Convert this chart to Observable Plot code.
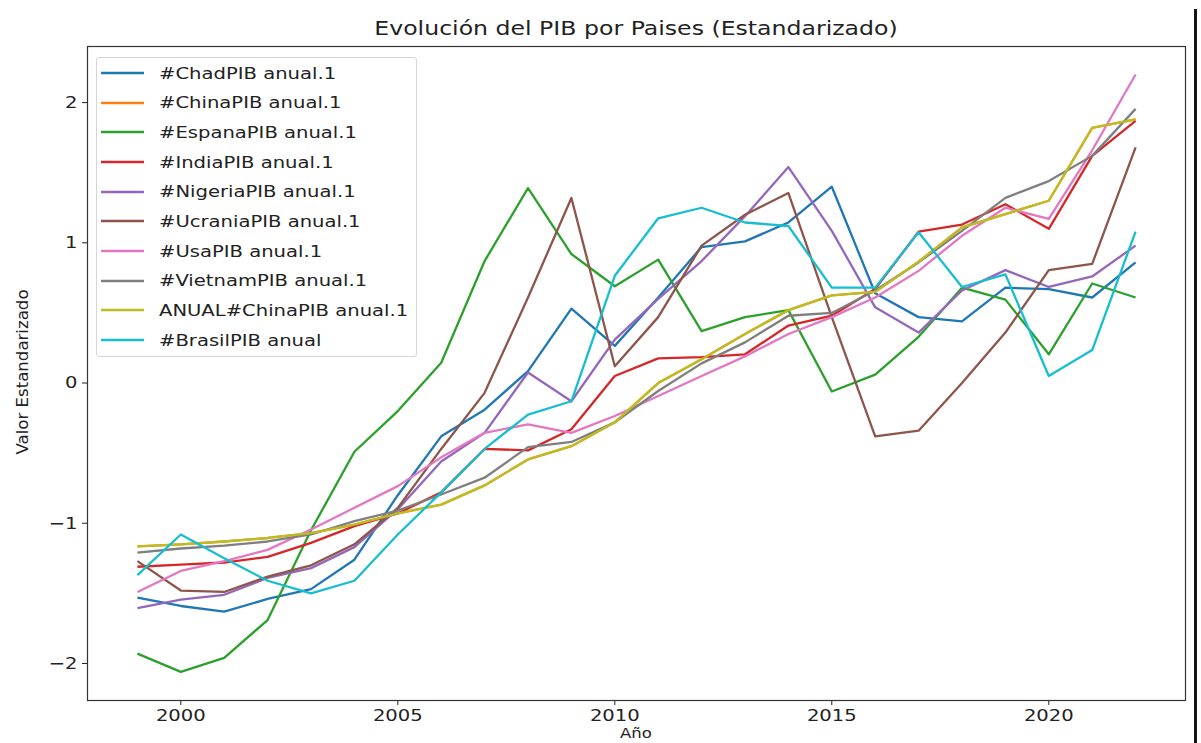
<!DOCTYPE html>
<html>
<head>
<meta charset="utf-8">
<script src="https://cdn.jsdelivr.net/npm/d3@7"></script>
<script src="https://cdn.jsdelivr.net/npm/@observablehq/plot@0.6"></script>
<style>
  html, body { margin: 0; padding: 0; background: #fff; overflow: hidden; width: 1201px; height: 743px; }
  #wrap { position: relative; width: 1201px; height: 743px; font-family: "DejaVu Sans", sans-serif; color: #222; }
  #title { position: absolute; left: 87px; width: 1098px; top: 15px; text-align: center; font-size: 20px; line-height: 26px; transform: scaleX(1.18); transform-origin: 50% 50%; }
  #ylab { position: absolute; left: 22px; top: 372px; transform: translate(-50%, -50%) rotate(-90deg); font-size: 16.6px; white-space: nowrap; }
  #xlab { position: absolute; left: 87px; width: 1098px; top: 725px; text-align: center; font-size: 14px; line-height: 16px; transform: scaleX(1.18); transform-origin: 50% 50%; }
  #legend { position: absolute; left: 96px; top: 57px; width: 321px; height: 300px; border: 1px solid #d6d6d6; border-radius: 3px; background: rgba(255,255,255,0.85); box-sizing: border-box; }
  .item { position: absolute; left: 0; height: 22px; display: flex; align-items: center; font-size: 16.6px; white-space: nowrap; }
  .item svg { margin-left: 4px; margin-right: 15px; flex: none; }
  .item span { display: inline-block; transform: scaleX(1.18); transform-origin: 0 50%; }
  #bar { position: absolute; left: 1194px; top: 9px; width: 3px; height: 734px; background: #151515; }
  #chart { position: absolute; left: 0; top: 0; }
</style>
</head>
<body>
<div id="wrap">
  <div id="chart"></div>
  <div id="title">Evolución del PIB por Paises (Estandarizado)</div>
  <div id="ylab">Valor Estandarizado</div>
  <div id="xlab">Año</div>
  <div id="legend"></div>
  <div id="bar"></div>
</div>
<script>
const years = [1999,2000,2001,2002,2003,2004,2005,2006,2007,2008,2009,2010,2011,2012,2013,2014,2015,2016,2017,2018,2019,2020,2021,2022];

const chad    = [-1.53,-1.59,-1.63,-1.54,-1.47,-1.26,-0.80,-0.38,-0.19,0.085,0.53,0.265,0.61,0.97,1.01,1.145,1.40,0.64,0.47,0.44,0.68,0.67,0.61,0.86];
const china   = [-1.165,-1.15,-1.13,-1.105,-1.07,-1.01,-0.93,-0.867,-0.73,-0.545,-0.45,-0.28,0.0,0.17,0.35,0.52,0.625,0.65,0.865,1.11,1.205,1.30,1.82,1.88];
const espana  = [-1.93,-2.06,-1.96,-1.69,-1.05,-0.49,-0.20,0.145,0.87,1.39,0.92,0.69,0.88,0.37,0.47,0.52,-0.06,0.06,0.33,0.68,0.595,0.205,0.71,0.61];
const india   = [-1.31,-1.295,-1.28,-1.24,-1.14,-1.02,-0.93,-0.78,-0.47,-0.48,-0.33,0.05,0.176,0.185,0.205,0.41,0.48,0.67,1.08,1.13,1.275,1.10,1.62,1.87];
const nigeria = [-1.605,-1.545,-1.51,-1.39,-1.32,-1.17,-0.90,-0.56,-0.355,0.075,-0.13,0.31,0.60,0.87,1.19,1.54,1.085,0.54,0.36,0.66,0.805,0.685,0.76,0.98];
const ucrania = [-1.27,-1.48,-1.49,-1.38,-1.30,-1.15,-0.89,-0.47,-0.07,0.61,1.32,0.12,0.47,0.98,1.20,1.355,0.47,-0.38,-0.34,0.0,0.36,0.805,0.85,1.68];
const usa     = [-1.49,-1.34,-1.27,-1.19,-1.045,-0.89,-0.735,-0.53,-0.355,-0.295,-0.355,-0.235,-0.093,0.05,0.19,0.35,0.47,0.61,0.80,1.05,1.25,1.17,1.66,2.20];
const vietnam = [-1.21,-1.18,-1.16,-1.13,-1.08,-0.985,-0.91,-0.795,-0.675,-0.457,-0.42,-0.28,-0.057,0.14,0.29,0.48,0.50,0.66,0.86,1.085,1.32,1.44,1.62,1.955];
const anualChina = [-1.165,-1.15,-1.13,-1.105,-1.07,-1.01,-0.93,-0.867,-0.73,-0.545,-0.45,-0.28,0.0,0.17,0.35,0.52,0.625,0.65,0.865,1.11,1.205,1.30,1.82,1.88];
const brasil  = [-1.37,-1.08,-1.25,-1.41,-1.50,-1.41,-1.08,-0.78,-0.47,-0.225,-0.13,0.765,1.175,1.25,1.145,1.12,0.68,0.68,1.075,0.685,0.775,0.05,0.235,1.08];

const seriesNames = ["#ChadPIB anual.1","#ChinaPIB anual.1","#EspanaPIB anual.1","#IndiaPIB anual.1","#NigeriaPIB anual.1","#UcraniaPIB anual.1","#UsaPIB anual.1","#VietnamPIB anual.1","ANUAL#ChinaPIB anual.1","#BrasilPIB anual"];
const seriesValues = [chad, china, espana, india, nigeria, ucrania, usa, vietnam, anualChina, brasil];
const colors = ["#1f77b4","#ff7f0e","#2ca02c","#d62728","#9467bd","#8c564b","#e377c2","#7f7f7f","#bcbd22","#17becf"];
const xTicks = [2000, 2005, 2010, 2015, 2020];
const yTicks = [-2, -1, 0, 1, 2];

const lineMarks = seriesValues.map((vals, i) =>
  Plot.line(years.map((yr, j) => ({year: yr, value: vals[j]})), {
    x: "year", y: "value", stroke: colors[i], strokeWidth: 2.3, strokeLinejoin: "round", strokeLinecap: "butt"
  })
);

const chart = Plot.plot({
  width: 1201,
  height: 743,
  marginTop: 46,
  marginBottom: 43,
  marginLeft: 87,
  marginRight: 16,
  style: { fontFamily: "DejaVu Sans, sans-serif", fontSize: "16.6px", color: "#222", background: "#fff" },
  x: { domain: [1997.85, 2023.15], ticks: xTicks, tickFormat: d => String(d), label: null, tickSize: 5, tickPadding: 4 },
  y: { domain: [-2.264, 2.40], ticks: yTicks, tickFormat: d => d < 0 ? "\u2212" + Math.abs(d) : String(d), label: null, tickSize: 5, tickPadding: 5 },
  marks: [
    ...lineMarks,
    Plot.frame({ stroke: "#333", strokeWidth: 1.2 })
  ]
});
document.getElementById("chart").appendChild(chart);

// widen tick label glyphs horizontally to match the reference's aspect
chart.querySelectorAll('g[aria-label="x-axis tick label"] text, g[aria-label="y-axis tick label"] text').forEach(t => {
  const tr = t.getAttribute("transform") || "";
  t.setAttribute("transform", tr + " scale(1.18,1)");
});

const legend = document.getElementById("legend");
seriesNames.forEach((name, i) => {
  const it = document.createElement("div");
  it.className = "item";
  it.style.top = (4 + 29.67 * i) + "px";
  it.innerHTML = `<svg width="43" height="6"><line x1="0" y1="3" x2="43" y2="3" stroke="${colors[i]}" stroke-width="2.5"/></svg><span>${name}</span>`;
  legend.appendChild(it);
});
</script>
</body>
</html>
